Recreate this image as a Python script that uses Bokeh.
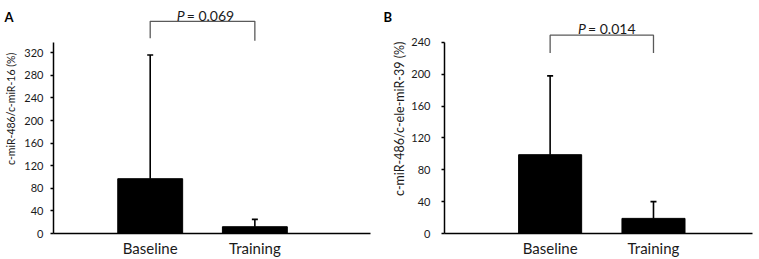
import math
from bokeh.plotting import figure
from bokeh.layouts import row
from bokeh.models import (ColumnDataSource, Whisker, TeeHead, Label, FixedTicker,
                          Range1d)
from bokeh.core.properties import value
from bokeh.embed import file_html
from bokeh.resources import INLINE

# ---------------- data ----------------
categories = ["Baseline", "Training"]

a_means = [97, 12]
a_sd = [219, 13]
a_ticks = [0, 40, 80, 120, 160, 200, 240, 280, 320]
a_ylabel = "c-miR-486/c-miR-16 (%)"
a_pvalue = "0.069"

b_means = [99, 19]
b_sd = [99, 21]
b_ticks = [0, 40, 80, 120, 160, 200, 240]
b_ylabel = "c-miR-486/c-ele-miR-39 (%)"
b_pvalue = "0.014"

FONT = "Lato"
TXT = "#1a1a1a"
H = 259
FRAME_H = 235


def side(letter, ylabel, g):
    """Narrow strip holding the panel letter and the rotated y-axis title."""
    W = g["sw"]
    s = figure(width=W, height=H, output_backend="svg", toolbar_location=None,
               x_range=Range1d(0, W), y_range=Range1d(0, H),
               x_axis_location=None, y_axis_location=None,
               min_border=0)
    s.outline_line_color = None
    s.grid.visible = False
    s.text(x=[g["let_x"]], y=[H - 18], text=[letter], text_font=value(FONT),
           text_font_style="bold", text_font_size="13px", text_color="black",
           text_align="left", text_baseline="alphabetic")
    s.text(x=[g["yl_x"]], y=[H - g["yl_y"]], text=[ylabel], angle=math.pi / 2,
           text_font=value(FONT), text_font_size=g["yl_fs"], text_color=TXT,
           text_align="center", text_baseline="middle")
    return s


def panel(means, sds, ticks, pvalue, g):
    W = g["W"]
    left, right = g["left"], g["right"]
    p = figure(width=W, height=H, output_backend="svg", toolbar_location=None,
               x_range=Range1d(g["x0"], g["x1"]), y_range=Range1d(0, g["yend"]),
               min_border_left=left, min_border_right=right,
               min_border_top=0, min_border_bottom=H - FRAME_H)
    p.outline_line_color = None
    p.grid.visible = False

    xs = list(range(1, len(categories) + 1))
    src = ColumnDataSource(dict(x=xs, top=means,
                                upper=[m + s for m, s in zip(means, sds)],
                                lower=means))
    p.add_layout(Whisker(source=src, base="x", upper="upper", lower="lower",
                         line_color="black", line_width=1.6,
                         upper_head=TeeHead(size=6, line_color="black", line_width=1.6),
                         lower_head=None, level="glyph"))
    p.vbar(x="x", top="top", bottom=0, width=g["bw"], source=src,
           fill_color="black", line_color="black")

    ya = p.yaxis[0]
    ya.ticker = FixedTicker(ticks=ticks)
    ya.bounds = (0, g["axtop"])
    ya.axis_line_color = "black"
    ya.axis_line_width = 1.5
    ya.major_tick_line_color = "black"
    ya.major_tick_line_width = 1.5
    ya.major_tick_out = 3
    ya.major_tick_in = 0
    ya.minor_tick_line_color = None
    ya.major_label_standoff = g["standoff"]
    ya.major_label_text_font = FONT
    ya.major_label_text_font_size = "11px"
    ya.major_label_text_color = TXT

    xa = p.xaxis[0]
    xa.ticker = FixedTicker(ticks=xs)
    xa.major_label_overrides = {x: c for x, c in zip(xs, categories)}
    xa.axis_line_color = "black"
    xa.axis_line_width = 1.5
    xa.major_tick_line_color = None
    xa.minor_tick_line_color = None
    xa.major_tick_out = 0
    xa.major_tick_in = 0
    xa.major_label_standoff = 5
    xa.major_label_text_font = FONT
    xa.major_label_text_font_size = "15px"
    xa.major_label_text_color = TXT

    sc = FRAME_H / g["yend"]

    def v(px):
        return (FRAME_H - px) / sc

    ytop = v(g["br_top"])
    p.line(x=[xs[0], xs[0], xs[1], xs[1]],
           y=[v(g["leg_l"]), ytop, ytop, v(g["leg_r"])],
           line_color="#5a5a5a", line_width=1.3)
    px = g["ptx"]
    p.add_layout(Label(x=px, y=v(g["p_base"]), text="P", x_offset=-30,
                       text_font=FONT, text_font_style="italic",
                       text_font_size="14px", text_color=TXT,
                       text_align="left", text_baseline="alphabetic"))
    p.add_layout(Label(x=px, y=v(g["p_base"]), text="= " + pvalue, x_offset=-20,
                       text_font=FONT, text_font_size="14px", text_color=TXT,
                       text_align="left", text_baseline="alphabetic"))
    return p


sa = dict(sw=21, let_x=4, yl_x=10, yl_y=120.5, yl_fs="10.5px")
ga = dict(W=359, left=31, right=10, x0=0.076, x1=3.105, bw=0.62,
          yend=412.5, axtop=339, standoff=7, br_top=21, leg_l=38, leg_r=40.7,
          p_base=15, ptx=1.54)
sb = dict(sw=28, let_x=3, yl_x=19, yl_y=131.5, yl_fs="12.5px")
gb = dict(W=351, left=32, right=7, x0=-0.022, x1=2.958, bw=0.61,
          yend=292.7, axtop=240, standoff=11, br_top=35, leg_l=53, leg_r=53,
          p_base=28, ptx=1.56)

layout = row(side("A", a_ylabel, sa), panel(a_means, a_sd, a_ticks, a_pvalue, ga),
             side("B", b_ylabel, sb), panel(b_means, b_sd, b_ticks, b_pvalue, gb))
open("out.html", "w").write(file_html(layout, INLINE))
